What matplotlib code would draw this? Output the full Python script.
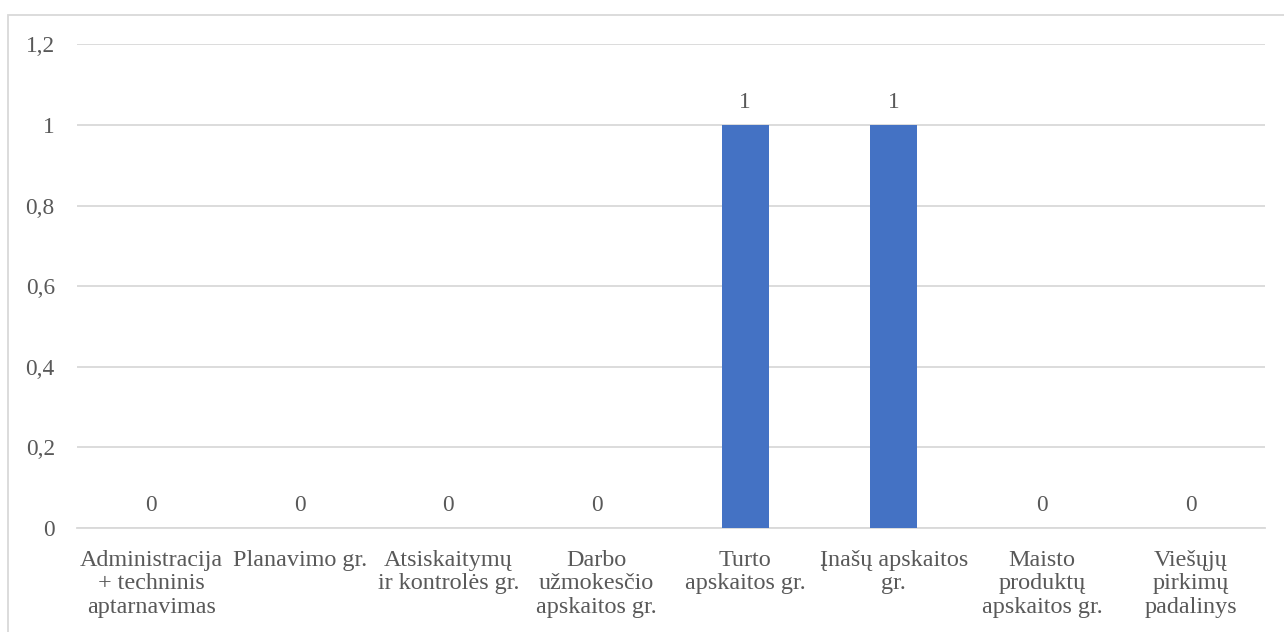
import matplotlib
matplotlib.use("Agg")
import matplotlib.pyplot as plt
from matplotlib.patches import Rectangle
import numpy as np

categories = [
    "Administracija\n+ techninis\naptarnavimas",
    "Planavimo gr.",
    "Atsiskaitymų\nir kontrolės gr.",
    "Darbo\nužmokesčio\napskaitos gr.",
    "Turto\napskaitos gr.",
    "Įnašų apskaitos\ngr.",
    "Maisto\nproduktų\napskaitos gr.",
    "Viešųjų\npirkimų\npadalinys",
]
values = [0, 0, 0, 0, 1, 1, 0, 0]
yticks = [0, 0.2, 0.4, 0.6, 0.8, 1, 1.2]
ytick_labels = ["0", "0,2", "0,4", "0,6", "0,8", "1", "1,2"]

plt.rcParams['font.family'] = ['Liberation Serif', 'DejaVu Serif']
text_color = "#595959"
grid_color = "#d9d9d9"
bar_color = "#4472C4"
fs = 16.8
fs_x = 17.4

W, H = 1284, 632
fig = plt.figure(figsize=(W / 100, H / 100), dpi=100)
ax = fig.add_axes([77 / W, (H - 528) / H, (1265 - 77) / W, (528 - 44.4) / H])

x = np.arange(len(categories))
bars = ax.bar(x, values, width=0.315, color=bar_color, zorder=3)
ax.set_xlim(-0.5, len(categories) - 0.5)
ax.set_ylim(0, 1.2)
ax.set_yticks(yticks)
ax.set_yticklabels(ytick_labels)
ax.set_xticks(x)
ax.set_xticklabels(categories, linespacing=1.16, fontsize=fs_x)
ax.yaxis.grid(True, color=grid_color, linewidth=1.3, zorder=0)
for s in ["top", "right", "left"]:
    ax.spines[s].set_visible(False)
ax.spines["bottom"].set_color(grid_color)
ax.spines["bottom"].set_linewidth(1.3)
ax.tick_params(axis="both", length=0, colors=text_color)
ax.tick_params(axis="y", labelsize=fs, pad=16)
ax.tick_params(axis="x", pad=15.5)

for xi, v in zip(x, values):
    label = f"{v:g}".replace(".", ",")
    ax.annotate(label, (xi, v), xytext=(0, 8.5), textcoords="offset points",
                ha="center", va="bottom", fontsize=fs, color=text_color)

fig.patches.append(Rectangle((8 / W, -0.1), 1.2, (H - 15) / H + 0.1,
                             transform=fig.transFigure, fill=False,
                             edgecolor=grid_color, linewidth=1.3, zorder=-1))

fig.savefig("out.png", dpi=100, facecolor="white")
